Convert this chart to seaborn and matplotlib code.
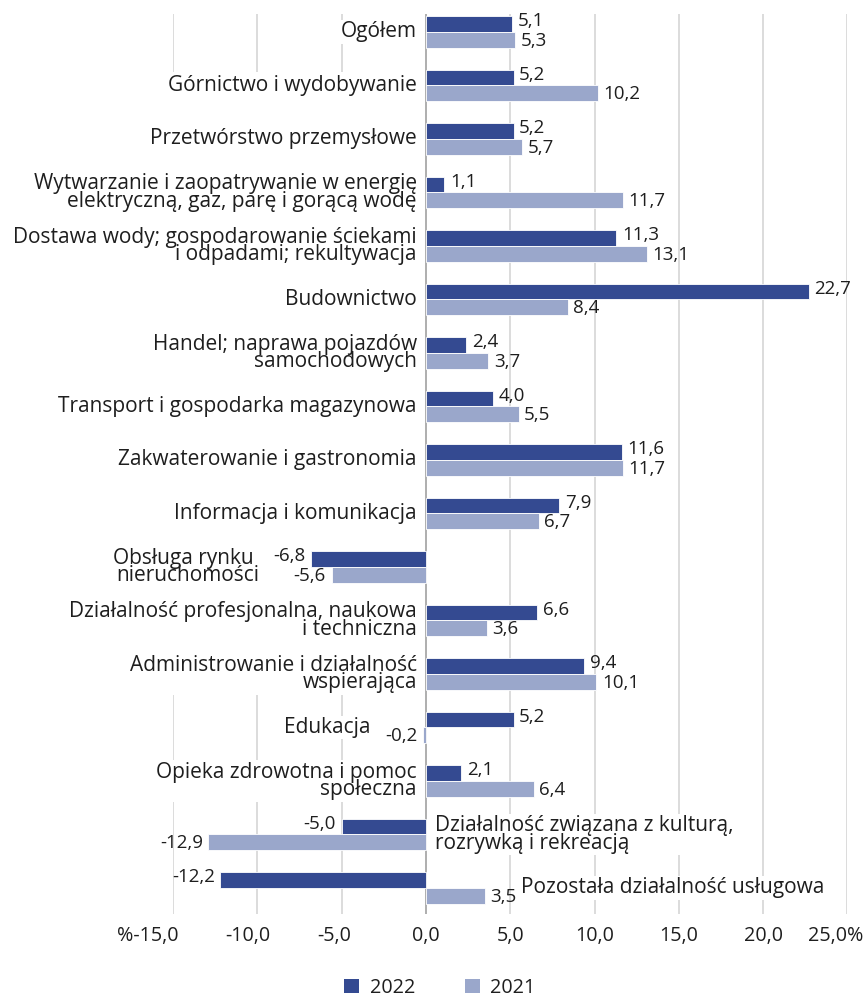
import matplotlib
matplotlib.use("Agg")
import matplotlib.pyplot as plt
from matplotlib.patches import Rectangle, Patch
import seaborn as sns
import pandas as pd

categories = [
    "Ogółem",
    "Górnictwo i wydobywanie",
    "Przetwórstwo przemysłowe",
    "Wytwarzanie i zaopatrywanie w energię\nelektryczną, gaz, parę i gorącą wodę",
    "Dostawa wody; gospodarowanie ściekami\ni odpadami; rekultywacja",
    "Budownictwo",
    "Handel; naprawa pojazdów\nsamochodowych",
    "Transport i gospodarka magazynowa",
    "Zakwaterowanie i gastronomia",
    "Informacja i komunikacja",
    "Obsługa rynku \nnieruchomości",
    "Działalność profesjonalna, naukowa\ni techniczna",
    "Administrowanie i działalność\nwspierająca",
    "Edukacja",
    "Opieka zdrowotna i pomoc\nspołeczna",
    "Działalność związana z kulturą,\nrozrywką i rekreacją",
    "Pozostała działalność usługowa",
]
values_2022 = [5.1, 5.2, 5.2, 1.1, 11.3, 22.7, 2.4, 4.0, 11.6, 7.9, -6.8, 6.6, 9.4, 5.2, 2.1, -5.0, -12.2]
values_2021 = [5.3, 10.2, 5.7, 11.7, 13.1, 8.4, 3.7, 5.5, 11.7, 6.7, -5.6, 3.6, 10.1, -0.2, 6.4, -12.9, 3.5]
series = ["2022", "2021"]
x_ticks = [-15, -10, -5, 0, 5, 10, 15, 20, 25]
x_tick_labels = ["%-15,0", "-10,0", "-5,0", "0,0", "5,0", "10,0", "15,0", "20,0", "25,0%"]
right_labeled = {categories[15], categories[16]}

DARK = "#344A91"
LIGHT = "#9AA7CB"
TXT = "#1E1E1E"
FS_CAT = 15.0
FS_VAL = 13.5
FS_TICK = 14.2
PX = 0.72  # points per pixel at dpi 100

sns.set_theme(style="white")
plt.rcParams["font.family"] = ["Open Sans", "DejaVu Sans"]
plt.rcParams["text.color"] = TXT

df = pd.DataFrame({
    "category": categories * 2,
    "year": [series[0]] * len(categories) + [series[1]] * len(categories),
    "value": values_2022 + values_2021,
})

fig = plt.figure(figsize=(8.65, 9.99), dpi=100)
ax = fig.add_axes([173 / 865, 1 - 914 / 999, 674.5 / 865, 900 / 999])

sns.barplot(data=df, y="category", x="value", hue="year", hue_order=series,
            order=categories, orient="h", palette=[DARK, LIGHT], saturation=1,
            width=0.59, edgecolor="white", linewidth=0.6, ax=ax, legend=False)

n = len(categories)
row_px = 53.5
ax.set_xlim(x_ticks[0], x_ticks[-1])
ax.set_ylim((n - 1) + 26 / row_px, (n - 1) - 874 / row_px)
ax.set_xticks(x_ticks)
ax.set_xticklabels([])
ax.set_yticks([])
ax.set_xlabel("")
ax.set_ylabel("")
ax.tick_params(length=0)
for s in ax.spines.values():
    s.set_visible(False)
ax.set_axisbelow(True)
ax.grid(axis="x", color="#D2D2D2", linewidth=1.1)
ax.grid(axis="y", visible=False)
ax.axvline(0, color="#A8A8A8", linewidth=1.2, zorder=0.95)

# white backdrop behind the left-hand category labels (hides gridlines there)
ax.add_patch(Rectangle((x_ticks[0], 0.75), -0.4 - x_ticks[0], 12.3 - 0.75,
                       facecolor="white", edgecolor="none", zorder=0.9))

# value labels (2022 nudged up, 2021 nudged down so they do not collide)
for cont, vals, dy in zip(ax.containers, [values_2022, values_2021], [3.0, -1.0]):
    for patch, v in zip(cont.patches, vals):
        yc = patch.get_y() + patch.get_height() / 2
        ax.annotate(f"{v:.1f}".replace(".", ","), xy=(v, yc),
                    xytext=(4 if v >= 0 else -4, dy * PX), textcoords="offset points",
                    ha="left" if v >= 0 else "right", va="center",
                    fontsize=FS_VAL, color=TXT, zorder=4)

# category labels
for i, cat in enumerate(categories):
    vals = (values_2022[i], values_2021[i])
    if cat in right_labeled:
        anchor = max(0, max(vals))
        dx = 9 if anchor == 0 else 36
        ha = "left"
    else:
        anchor = min(0, min(vals))
        dx = -9 if anchor == 0 else -52
        ha = "right"
    ax.annotate(cat, xy=(anchor, i), xytext=(dx * PX, 0), textcoords="offset points",
                ha=ha, va="center", multialignment=ha, fontsize=FS_CAT, color=TXT,
                linespacing=0.8, zorder=3,
                bbox=dict(facecolor="white", edgecolor="none", pad=1.0))

# x tick labels
tick_dx = {-15: -25, -10: -9, -5: -7, 25: -12}
for t, lbl in zip(x_ticks, x_tick_labels):
    ax.annotate(lbl, xy=(t, 0), xycoords=("data", "axes fraction"),
                xytext=(tick_dx.get(t, 0) * PX, -22 * PX), textcoords="offset points",
                ha="center", va="center", fontsize=FS_TICK, color=TXT, annotation_clip=False)

handles = [Patch(facecolor=DARK, edgecolor="none"), Patch(facecolor=LIGHT, edgecolor="none")]
fig.legend(handles, series, loc="center", bbox_to_anchor=(440 / 865, 1 - 988 / 999),
           ncol=2, frameon=False, fontsize=FS_TICK, handlelength=0.75, handleheight=0.75,
           handletextpad=0.55, columnspacing=2.5)

fig.savefig("out.png", dpi=100)
